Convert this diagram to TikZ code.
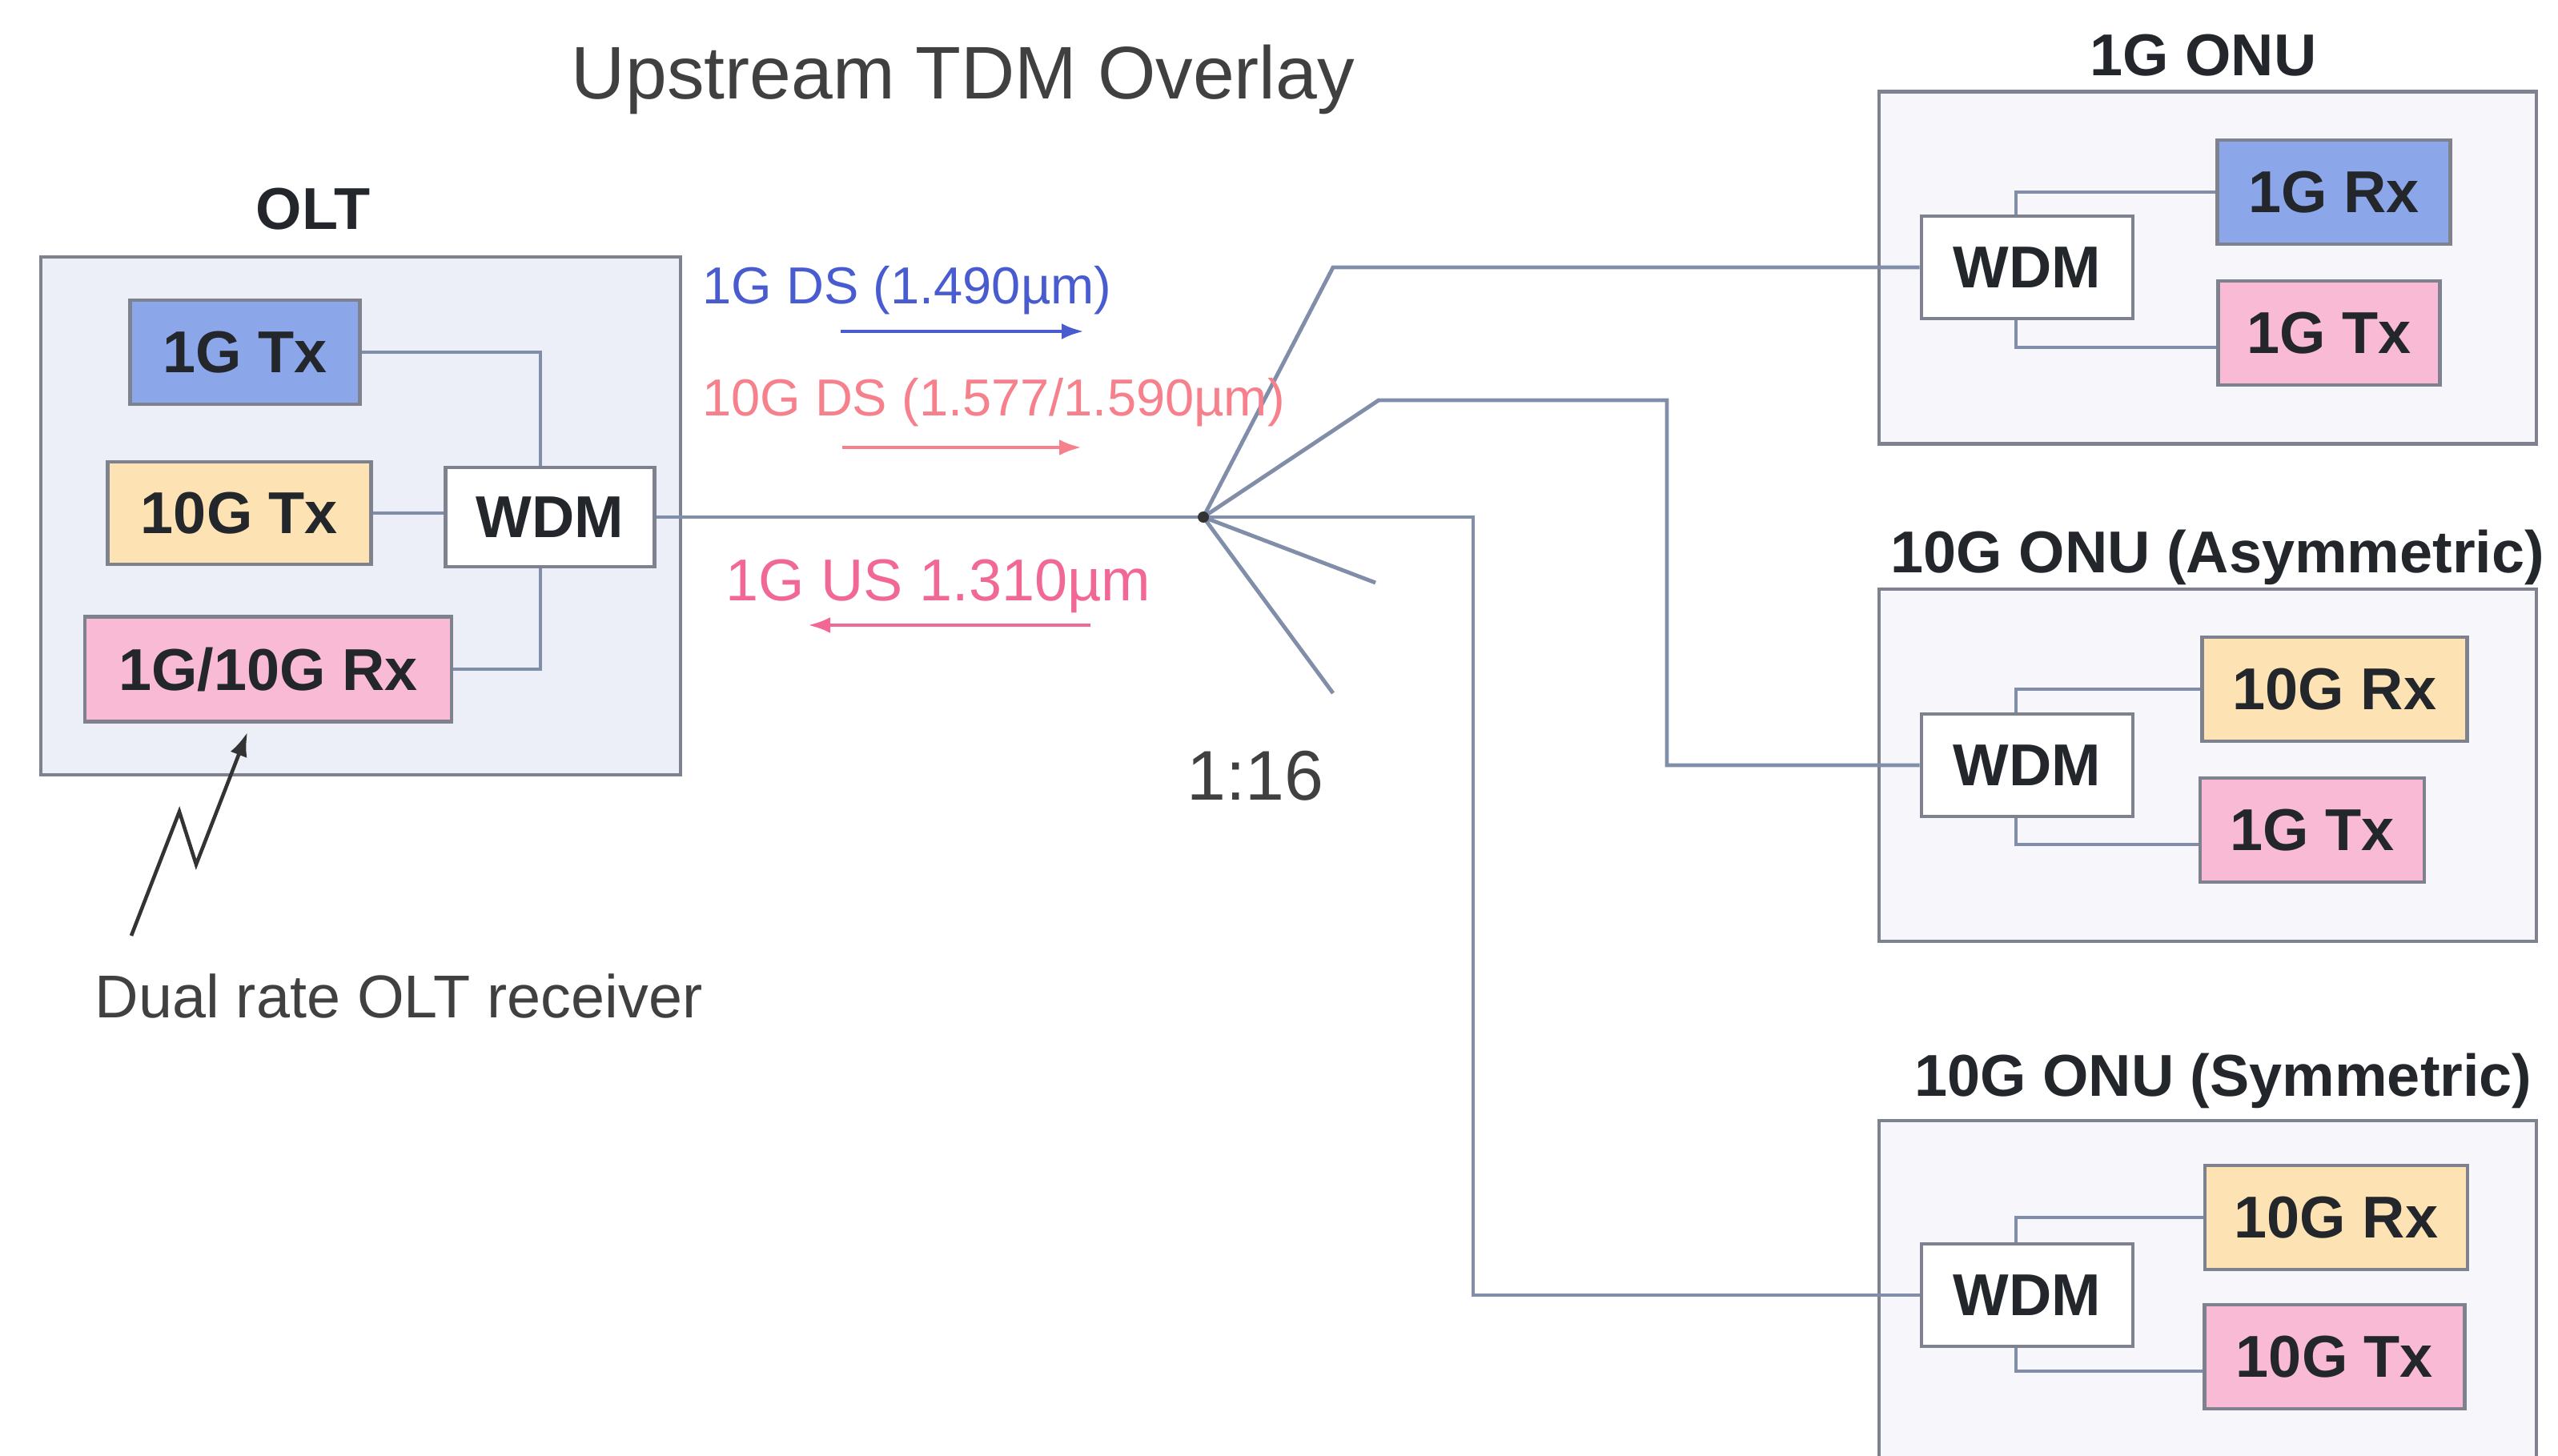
\documentclass[tikz,border=0pt]{standalone}
\usepackage{fontspec}
\setmainfont{Liberation Sans}
\usetikzlibrary{positioning,arrows.meta}

\definecolor{fibregray}{RGB}{128,142,170}
\definecolor{edgegray}{RGB}{125,130,142}
\definecolor{oltbg}{RGB}{236,238,248}
\definecolor{onubg}{RGB}{246,246,251}
\definecolor{gblue}{RGB}{140,166,234}
\definecolor{gpeach}{RGB}{253,226,180}
\definecolor{gpink}{RGB}{248,186,212}
\definecolor{dsblue}{RGB}{72,92,208}
\definecolor{dsred}{RGB}{246,128,140}
\definecolor{uspink}{RGB}{242,104,148}
\definecolor{ink}{RGB}{35,38,42}

\begin{document}
\begin{tikzpicture}[x=1cm,y=-1cm,
  every node/.style={text=ink},
  part/.style={draw=edgegray,line width=1.3pt,inner sep=0pt,minimum height=1.3cm,
    font=\fontsize{21}{24}\selectfont\bfseries},
  housing/.style={draw=edgegray,line width=1.3pt,inner sep=0pt},
  heading/.style={font=\fontsize{21}{24}\selectfont\bfseries},
  fiber/.style={draw=fibregray,line width=1.4pt},
  wave/.style={font=\fontsize{18.5}{22}\selectfont},
  flow/.style={-{Latex[length=0.28cm,width=0.2cm]},line width=1.4pt}]
\useasboundingbox (0,0) rectangle (31.95,18.19);
\clip (0,0) rectangle (31.95,18.19);

\node[font=\fontsize{26.5}{30}\selectfont,text=black!75] (title) at (12.03,0.99) {Upstream TDM Overlay};

% OLT side
\node[housing,fill=oltbg,minimum width=7.99cm,minimum height=6.47cm] (olt) at (4.505,6.445) {};
\node[heading] (oltname) at (3.91,2.61) {OLT};
\node[part,fill=gblue,minimum width=2.87cm] (tx1) at (3.06,4.40) {1G Tx};
\node[part,fill=gpeach,minimum width=3.29cm,minimum height=1.28cm] (tx10) at (2.99,6.41) {10G Tx};
\node[part,fill=white,minimum width=2.61cm,minimum height=1.24cm] (wdm) at (6.87,6.46) {WDM};
\node[part,fill=gpink,minimum width=4.58cm,minimum height=1.31cm] (rx) at (3.35,8.36) {1G/10G Rx};
\draw[fiber] (tx1.east) -| ([xshift=-0.12cm]wdm.north);
\draw[fiber] (tx10.east) -- (tx10.east -| wdm.west);
\draw[fiber] (rx.east) -| ([xshift=-0.12cm]wdm.south);

% ONUs
\foreach \i/\by/\ly/\lx/\name/\wy/\rxx/\rxy/\rxw/\rxc/\rxt/\txx/\txy/\txw/\txc/\txt in {
  1/3.345/0.69/27.52/1G ONU/3.34/29.15/2.40/2.91/gblue/1G Rx/29.09/4.16/2.77/gpink/1G Tx,
  2/9.56/6.96/27.70/10G ONU (Asymmetric)/9.56/29.16/8.61/3.31/gpeach/10G Rx/28.88/10.37/2.80/gpink/1G Tx,
  3/16.20/13.50/27.77/10G ONU (Symmetric)/16.18/29.18/15.21/3.28/gpeach/10G Rx/29.16/16.95/3.25/gpink/10G Tx}
{
  \node[housing,fill=onubg,minimum width=8.21cm,minimum height=4.40cm] (onu\i) at (27.575,\by) {};
  \node[heading] (onuname\i) at (\lx,\ly) {\name};
  \node[part,fill=white,minimum width=2.64cm,minimum height=1.28cm] (wdm\i) at (25.32,\wy) {WDM};
  \node[part,fill=\rxc,minimum width=\rxw cm] (rx\i) at (\rxx,\rxy) {\rxt};
  \node[part,fill=\txc,minimum width=\txw cm] (tx\i) at (\txx,\txy) {\txt};
  \draw[fiber] ([xshift=-0.14cm]wdm\i.north) |- (rx\i.west);
  \draw[fiber] ([xshift=-0.14cm]wdm\i.south) |- ([yshift=-0.18cm]tx\i.west);
}

% splitter and drop fibres
\coordinate (split) at (15.03,6.46);
\coordinate (bend1) at (16.65,3.34);
\coordinate (bend2) at (17.22,5.00);
\coordinate (drop2) at (20.82,9.56);
\coordinate (drop3) at (18.40,16.18);
\coordinate (stub1) at (17.18,7.28);
\coordinate (stub2) at (16.65,8.66);
\draw[fiber] (wdm.east) -- (split);
\draw[fiber] (split) -- (bend1) -- (wdm1.west);
\draw[fiber] (split) -- (bend2) -| (drop2) -- (wdm2.west);
\draw[fiber] (split) -| (drop3) -- (wdm3.west);
\draw[fiber] (split) -- (stub1) (split) -- (stub2);
\fill[black!80] (split) circle (0.07);
\node[font=\fontsize{25}{30}\selectfont,text=black!75] (ratio) at (15.68,9.69) {1:16};

% wavelengths
\node[wave,text=dsblue] (ds1) at (11.33,3.63) {1G DS (1.490µm)};
\node[wave,text=dsred] (ds10) at (12.41,5.03) {10G DS (1.577/1.590µm)};
\node[font=\fontsize{21}{24}\selectfont,text=uspink] (us1) at (11.72,7.32) {1G US 1.310µm};
\coordinate (ds1a) at (10.50,4.14);
\coordinate (ds1b) at (13.54,4.14);
\coordinate (ds10a) at (10.52,5.59);
\coordinate (ds10b) at (13.51,5.59);
\coordinate (us1a) at (13.62,7.81);
\coordinate (us1b) at (10.09,7.81);
\draw[flow,dsblue] (ds1a) -- (ds1b);
\draw[flow,dsred] (ds10a) -- (ds10b);
\draw[flow,uspink] (us1a) -- (us1b);

% receiver note
\node[font=\fontsize{21.5}{26}\selectfont,text=black!75] (note) at (4.98,12.44) {Dual rate OLT receiver};
\coordinate (zz0) at (1.64,11.69);
\coordinate (zz1) at (2.24,10.14);
\coordinate (zz2) at (2.45,10.80);
\draw[-{Latex[length=0.3cm,width=0.22cm]},black!80,line width=1.3pt]
  (zz0) -- (zz1) -- (zz2) -- ([xshift=-0.26cm,yshift=-0.11cm]rx.south);
\end{tikzpicture}
\end{document}
